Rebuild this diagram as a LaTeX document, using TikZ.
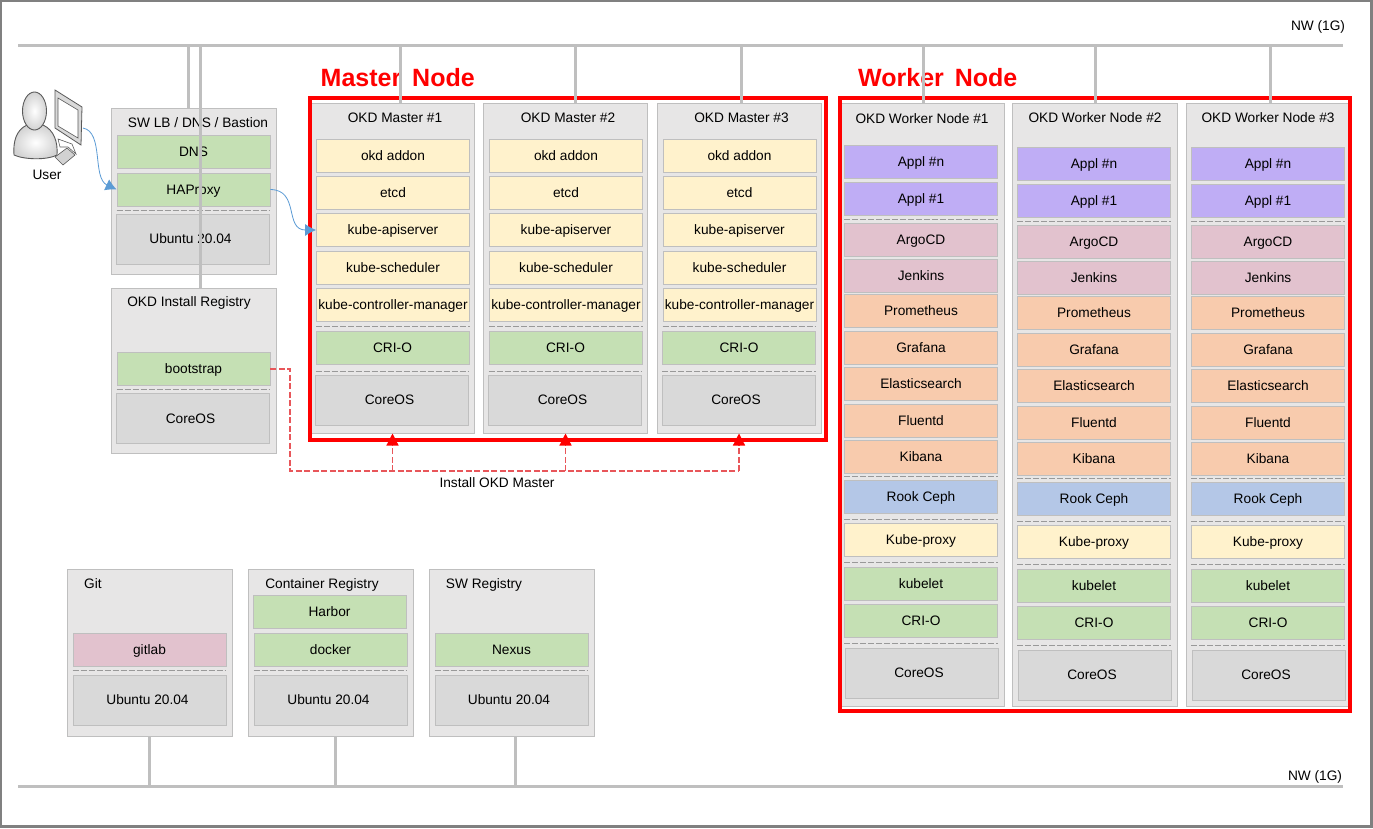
\documentclass[tikz,border=0pt]{standalone}
\usepackage{fontspec}
\setmainfont{Liberation Sans}
\usetikzlibrary{arrows.meta}
\definecolor{linegray}{HTML}{BFBFBF}
\definecolor{panelgray}{HTML}{E7E6E6}
\definecolor{osgray}{HTML}{D9D9D9}
\definecolor{greenfill}{HTML}{C5E0B4}
\definecolor{yellowfill}{HTML}{FFF2CC}
\definecolor{purplefill}{HTML}{BFADF5}
\definecolor{pinkfill}{HTML}{E2C2CE}
\definecolor{orangefill}{HTML}{F8CBAD}
\definecolor{bluefill}{HTML}{B4C7E7}
\definecolor{arrowblue}{HTML}{5B9BD5}
\definecolor{dashred}{HTML}{E8565A}
\begin{document}
\begin{tikzpicture}[x=1pt,y=-1pt,
  every node/.style={font=\fontsize{13.7}{16}\selectfont,inner sep=0pt,text height=11pt,text depth=2pt},
  panel/.style={draw=linegray,fill=panelgray,line width=1pt,minimum width=165pt},
  layerbox/.style={draw=linegray,line width=0.8pt,minimum width=153pt,minimum height=33pt},
  greenbox/.style={layerbox,fill=greenfill},
  yellowbox/.style={layerbox,fill=yellowfill},
  purplebox/.style={layerbox,fill=purplefill},
  pinkbox/.style={layerbox,fill=pinkfill},
  orangebox/.style={layerbox,fill=orangefill},
  bluebox/.style={layerbox,fill=bluefill},
  osbox/.style={layerbox,fill=osgray,minimum height=50pt,execute at end node={\hspace{5pt}}},
  sepline/.style={draw=gray!80,line width=0.6pt,dash pattern=on 6pt off 2pt},
  netbus/.style={fill=linegray,minimum width=1325pt,minimum height=3pt,text height=0pt,text depth=0pt},
  netline/.style={draw=linegray,line width=3pt},
  redframe/.style={draw=red,line width=4pt},
  redtitle/.style={text=red,font=\bfseries\fontsize{25}{28}\selectfont,text height=18pt,text depth=0pt,anchor=west},
  userflow/.style={draw=arrowblue,line width=0.8pt,-{Latex[length=11pt,width=12pt]}},
  installflow/.style={draw=dashred,line width=1.2pt,dash pattern=on 6pt off 2.5pt}]
  \useasboundingbox (0,0) rectangle (1373,828);
  \fill[white] (0,0) rectangle (1373,828);
  \draw[gray,line width=2.5pt] (1,1) rectangle (1371.5,826.5);

  \node[netbus] (nwtop) at (680.5,45) {};
  \node[netbus] (nwbottom) at (680.5,786) {};
  \node (nwtoplabel) at (1318,26) {NW (1G)};
  \node (nwbottomlabel) at (1315,776) {NW (1G)};

  \node[panel,minimum height=166pt] (lb) at (193.5,191) {};
  \node (lbtitle) at (198,122.5) {SW LB / DNS / Bastion};
  \node[greenbox] (dns) at (193.5,151.5) {DNS};
  \node[greenbox] (haproxy) at (193.5,189.5) {HAProxy};
  \node[osbox] (lbos) at (193,239) {Ubuntu 20.04};
  \draw[sepline] ([yshift=-3.5pt]haproxy.south west) -- ([yshift=-3.5pt]haproxy.south east);

  \node[panel,minimum height=165pt] (install) at (193.5,370.5) {};
  \node (installtitle) at (189,301.5) {OKD Install Registry};
  \node[greenbox] (bootstrap) at (193.5,368.5) {bootstrap};
  \node[osbox] (installos) at (193,418.5) {CoreOS};
  \draw[sepline] ([yshift=-4pt]bootstrap.south west) -- ([yshift=-4pt]bootstrap.south east);

  \foreach \c/\dx in {1/0,2/173,3/346.5} {
    \begin{scope}[xshift=\dx pt]
      \node[panel,minimum width=164pt,minimum height=330pt] (m\c) at (392.5,268) {};
      \node (m\c title) at (395,117.5) {OKD Master \#\c};
      \foreach \nm/\y/\txt in {addon/155.5/okd addon,etcd/192.5/etcd,api/230/kube-apiserver,sch/267.5/kube-scheduler,kcm/304.5/kube-controller-manager}
        \node[yellowbox] (m\c\nm) at (393,\y) {\txt};
      \node[greenbox] (m\c crio) at (392.5,347.5) {CRI-O};
      \node[osbox] (m\c os) at (392,400) {CoreOS};
      \foreach \nm/\d in {kcm/5,crio/7}
        \draw[sepline] ([yshift=-\d pt]m\c\nm.south west) -- ([yshift=-\d pt]m\c\nm.south east);
    \end{scope}
  }

  \foreach \c/\dx/\dy/\tx in {1/0/0/922,2/173/2/1095,3/347/2/1268} {
    \node[panel,minimum height=603pt] (w\c) at (922+\dx,404.5) {};
    \node (w\c title) at (\tx,{118.5-\dy/2}) {OKD Worker Node \#\c};
    \foreach \nm/\y/\st/\txt in {appn/161.5/purplebox/Appl \#n,appa/198.5/purplebox/Appl \#1,
        argo/240/pinkbox/ArgoCD,jenkins/275.5/pinkbox/Jenkins,prom/310.5/orangebox/Prometheus,
        graf/347.5/orangebox/Grafana,elastic/383.5/orangebox/Elasticsearch,fluent/420.5/orangebox/Fluentd,
        kibana/456.5/orangebox/Kibana,rook/496.5/bluebox/Rook Ceph,proxy/540/yellowbox/Kube-proxy,
        kubelet/583.5/greenbox/kubelet,crio/620.5/greenbox/CRI-O}
      \node[\st] (w\c\nm) at (921+\dx,\y+\dy) {\txt};
    \node[osbox] (w\c os) at (921.5+\dx,673+\dy) {CoreOS};
    \foreach \nm/\d in {appa/4,kibana/3,rook/6,proxy/5,crio/6}
      \draw[sepline] ([yshift=-\d pt]w\c\nm.south west) -- ([yshift=-\d pt]w\c\nm.south east);
  }

  \node[panel,minimum height=167pt] (git) at (150,652.5) {};
  \node (gittitle) at (93,583.5) {Git};
  \node[pinkbox] (gitlab) at (149.5,650) {gitlab};
  \node[osbox] (gitos) at (150,700) {Ubuntu 20.04};
  \draw[sepline] ([yshift=-3.5pt]gitlab.south west) -- ([yshift=-3.5pt]gitlab.south east);

  \node[panel,minimum height=167pt] (creg) at (331,652.5) {};
  \node (cregtitle) at (322,583.5) {Container Registry};
  \node[greenbox] (harbor) at (329.5,611.5) {Harbor};
  \node[greenbox] (docker) at (330.5,650) {docker};
  \node[osbox] (cregos) at (331,700) {Ubuntu 20.04};
  \draw[sepline] ([yshift=-3.5pt]docker.south west) -- ([yshift=-3.5pt]docker.south east);

  \node[panel,minimum height=167pt] (swreg) at (512,652.5) {};
  \node (swregtitle) at (484,583.5) {SW Registry};
  \node[greenbox] (nexus) at (511.5,650) {Nexus};
  \node[osbox] (swregos) at (511.5,700) {Ubuntu 20.04};
  \draw[sepline] ([yshift=-3.5pt]nexus.south west) -- ([yshift=-3.5pt]nexus.south east);

  \node[redframe,minimum width=516pt,minimum height=342pt] (masterframe) at (568,269) {};
  \node[redframe,minimum width=510pt,minimum height=613pt] (workerframe) at (1095,404.5) {};
  \node[redtitle] (mastertitle) at (320.5,77) {Master\hspace{4pt} Node};
  \node[redtitle] (workertitle) at (858,77) {Worker\hspace{4pt} Node};

  \foreach \x/\y in {188/108,200/288,400/103,575/103,741/103,923/103,1095/103,1270/103} {
    \coordinate (tap) at (\x,\y);
    \draw[netline] (tap) -- (tap |- nwtop);
  }
  \foreach \x/\y in {149.5/736,335.5/736,515.5/736} {
    \coordinate (tap) at (\x,\y);
    \draw[netline] (tap) -- (tap |- nwbottom);
  }

  % user icon
  \draw[gray!70!black,fill=gray!30,line width=0.8pt] (55,90) -- (82,107) -- (81,145) -- (55,128) -- cycle;
  \draw[gray!70!black,fill=white,line width=0.6pt] (58,98) -- (78,110) -- (78,138) -- (58,126) -- cycle;
  \draw[gray!70!black,fill=white,line width=0.6pt] (58,139) -- (72,144) -- (76,154) -- (68,147) -- (60,147) -- cycle;
  \draw[gray!70!black,fill=gray!35,line width=0.6pt] (55,157) -- (67,148) -- (75,155) -- (63,165) -- cycle;
  \draw[gray!70!black,inner color=white,outer color=gray!35,line width=0.9pt] (27,125) .. controls (16,130) and (13,142) .. (14,155)
    .. controls (25,160) and (48,160) .. (57,155) .. controls (58,142) and (54,130) .. (43,125) -- cycle;
  \draw[gray!70!black,inner color=white,outer color=gray!35,line width=0.9pt] (34.5,111) ellipse (12 and 19);
  \node (user) at (47,175) {User};

  \coordinate (userout) at (83,128);
  \draw[userflow] (userout) .. controls (104,132) and (92,178) .. (haproxy.west);
  \draw[userflow] (haproxy.east) .. controls (300,190) and (284,230) .. (m1api.west);

  \coordinate (installturn) at (290,369);
  \coordinate (installbus) at (290,471);
  \draw[installflow] (bootstrap.east |- installturn) -- (installturn) -- (installbus) -- (installbus -| m3.south);
  \foreach \c in {1,2,3}
    \draw[installflow,-{Triangle[length=12pt,width=12pt,fill=red,color=red]}] (installbus -| m\c.south) -- (m\c.south);
  \node (installlabel) at (497,482.5) {Install OKD Master};
\end{tikzpicture}
\end{document}
